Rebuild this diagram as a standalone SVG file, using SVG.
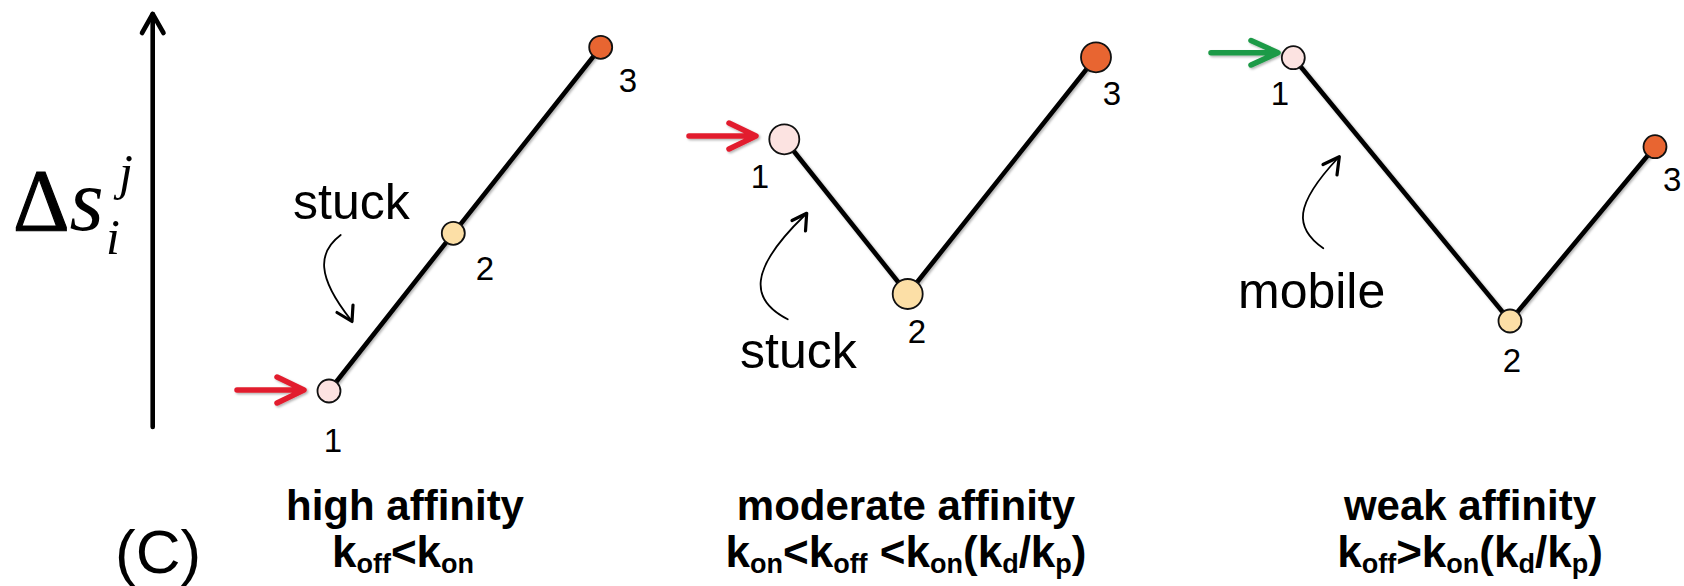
<svg xmlns="http://www.w3.org/2000/svg" width="1684" height="586" viewBox="0 0 1684 586">
  <style>
    .axis { fill: none; stroke: #000; stroke-width: 4.6; stroke-linecap: round; stroke-linejoin: round; }
    .chain { fill: none; stroke: #000; stroke-width: 4.6; stroke-linecap: round; }
    .node { stroke: #111; stroke-width: 1.8; }
    .s1 { fill: #fce3e1; }
    .s2 { fill: #fcdfa6; }
    .s3 { fill: #e86531; }
    .push { fill: none; stroke-width: 5.5; stroke-linecap: round; stroke-linejoin: round; }
    .red { stroke: #e21f2f; }
    .green { stroke: #1f9a47; }
    .hint { fill: none; stroke: #000; stroke-width: 1.8; stroke-linecap: round; }
    .hinthead { fill: none; stroke: #000; stroke-width: 3.2; stroke-linecap: round; stroke-linejoin: round; }
    .num { font-family: "Liberation Sans", Arial, sans-serif; font-size: 33px; fill: #000; }
    .word { font-family: "Liberation Sans", Arial, sans-serif; font-size: 50px; fill: #000; }
    .title { font-family: "Liberation Sans", Arial, sans-serif; font-size: 42px; font-weight: bold; fill: #000; text-anchor: middle; }
    .rate { font-family: "Liberation Sans", Arial, sans-serif; font-size: 44px; font-weight: bold; fill: #000; text-anchor: middle; }
    .sub { font-size: 27px; }
    .math { font-family: "Liberation Serif", "Times New Roman", serif; fill: #000; }
  </style>
  <defs>
    <filter id="soft" x="-20%" y="-20%" width="140%" height="140%">
      <feDropShadow dx="1.5" dy="1.5" stdDeviation="1.3" flood-color="#000" flood-opacity="0.3"/>
    </filter>
  </defs>

  <!-- vertical axis with open arrowhead -->
  <g id="axis">
    <path class="axis" d="M152.7,427 V14"/>
    <path class="axis" d="M142,33 L152.7,14 L163.5,33"/>
    <text class="math" y="230"><tspan x="13" font-size="88" stroke="#000" stroke-width="1.2">Δ</tspan><tspan font-style="italic" font-size="88">s</tspan></text>
    <text class="math" x="119" y="189" font-style="italic" font-size="50">j</text>
    <text class="math" x="106" y="254" font-style="italic" font-size="50">i</text>
  </g>

  <!-- segment chains -->
  <g id="connectors">
    <polyline class="chain" filter="url(#soft)" points="329,391 453.3,233.3 600.7,47.3"/>
    <polyline class="chain" filter="url(#soft)" points="784.3,139.3 907.7,294 1096,57.3"/>
    <polyline class="chain" filter="url(#soft)" points="1293.3,57.7 1510,321 1655,146.7"/>

    <!-- entry arrows -->
    <g filter="url(#soft)">
      <path class="push red" d="M237,390 H303 M277,377 L304,390 L277,403"/>
      <path class="push red" d="M689,136 H755 M729,123 L756,136 L729,149"/>
      <path class="push green" d="M1211,52.7 H1277 M1251,40.5 L1278,52.7 L1251,65"/>
    </g>

    <!-- annotation arrows -->
    <path class="hint" d="M340.7,235 C318,252 316,276 351,320"/>
    <path class="hinthead" d="M337,312.5 L352,321.5 L353,305"/>
    <path class="hint" d="M787.7,319.3 C750,300 748,270 805,215"/>
    <path class="hinthead" d="M792,220.5 L806.7,213.3 L805.5,231"/>
    <path class="hint" d="M1323.3,248.3 C1294,228 1294,205 1338,158"/>
    <path class="hinthead" d="M1323,164.5 L1339.3,156.7 L1337,175"/>
  </g>

  <!-- high affinity panel -->
  <g id="high-1"><circle class="node s1" cx="329" cy="391" r="11.5"/><text class="num" x="333" y="452" text-anchor="middle">1</text></g>
  <g id="high-2"><circle class="node s2" cx="453.3" cy="233.3" r="11.5"/><text class="num" x="485" y="280" text-anchor="middle">2</text></g>
  <g id="high-3"><circle class="node s3" cx="600.7" cy="47.3" r="11.5"/><text class="num" x="628" y="92" text-anchor="middle">3</text></g>
  <g id="high-label">
    <text class="word" x="293" y="219">stuck</text>
    <text class="title" x="405" y="520">high affinity</text>
    <text class="rate" x="403" y="567">k<tspan class="sub" dy="6">off</tspan><tspan dy="-6">&lt;k</tspan><tspan class="sub" dy="6">on</tspan></text>
  </g>

  <!-- moderate affinity panel -->
  <g id="moderate-1"><circle class="node s1" cx="784.3" cy="139.3" r="15"/><text class="num" x="760" y="188" text-anchor="middle">1</text></g>
  <g id="moderate-2"><circle class="node s2" cx="907.7" cy="294" r="15"/><text class="num" x="917" y="343" text-anchor="middle">2</text></g>
  <g id="moderate-3"><circle class="node s3" cx="1096" cy="57.3" r="15"/><text class="num" x="1112" y="105" text-anchor="middle">3</text></g>
  <g id="moderate-label">
    <text class="word" x="740" y="368">stuck</text>
    <text class="title" x="906" y="520">moderate affinity</text>
    <text class="rate" x="906" y="567">k<tspan class="sub" dy="6">on</tspan><tspan dy="-6">&lt;k</tspan><tspan class="sub" dy="6">off</tspan><tspan dy="-6"> &lt;k</tspan><tspan class="sub" dy="6">on</tspan><tspan dy="-6">(k</tspan><tspan class="sub" dy="6">d</tspan><tspan dy="-6">/k</tspan><tspan class="sub" dy="6">p</tspan><tspan dy="-6">)</tspan></text>
  </g>

  <!-- weak affinity panel -->
  <g id="weak-1"><circle class="node s1" cx="1293.3" cy="57.7" r="11.5"/><text class="num" x="1280" y="105" text-anchor="middle">1</text></g>
  <g id="weak-2"><circle class="node s2" cx="1510" cy="321" r="11.5"/><text class="num" x="1512" y="372" text-anchor="middle">2</text></g>
  <g id="weak-3"><circle class="node s3" cx="1655" cy="146.7" r="11.5"/><text class="num" x="1663" y="191">3</text></g>
  <g id="weak-label">
    <text class="word" x="1238" y="308">mobile</text>
    <text class="title" x="1470" y="520">weak affinity</text>
    <text class="rate" x="1470" y="567">k<tspan class="sub" dy="6">off</tspan><tspan dy="-6">&gt;k</tspan><tspan class="sub" dy="6">on</tspan><tspan dy="-6">(k</tspan><tspan class="sub" dy="6">d</tspan><tspan dy="-6">/k</tspan><tspan class="sub" dy="6">p</tspan><tspan dy="-6">)</tspan></text>
  </g>

  <g id="panel-tag">
    <text x="115" y="573" font-family="'Liberation Sans', Arial, sans-serif" font-size="62" fill="#000">(C)</text>
  </g>
</svg>
